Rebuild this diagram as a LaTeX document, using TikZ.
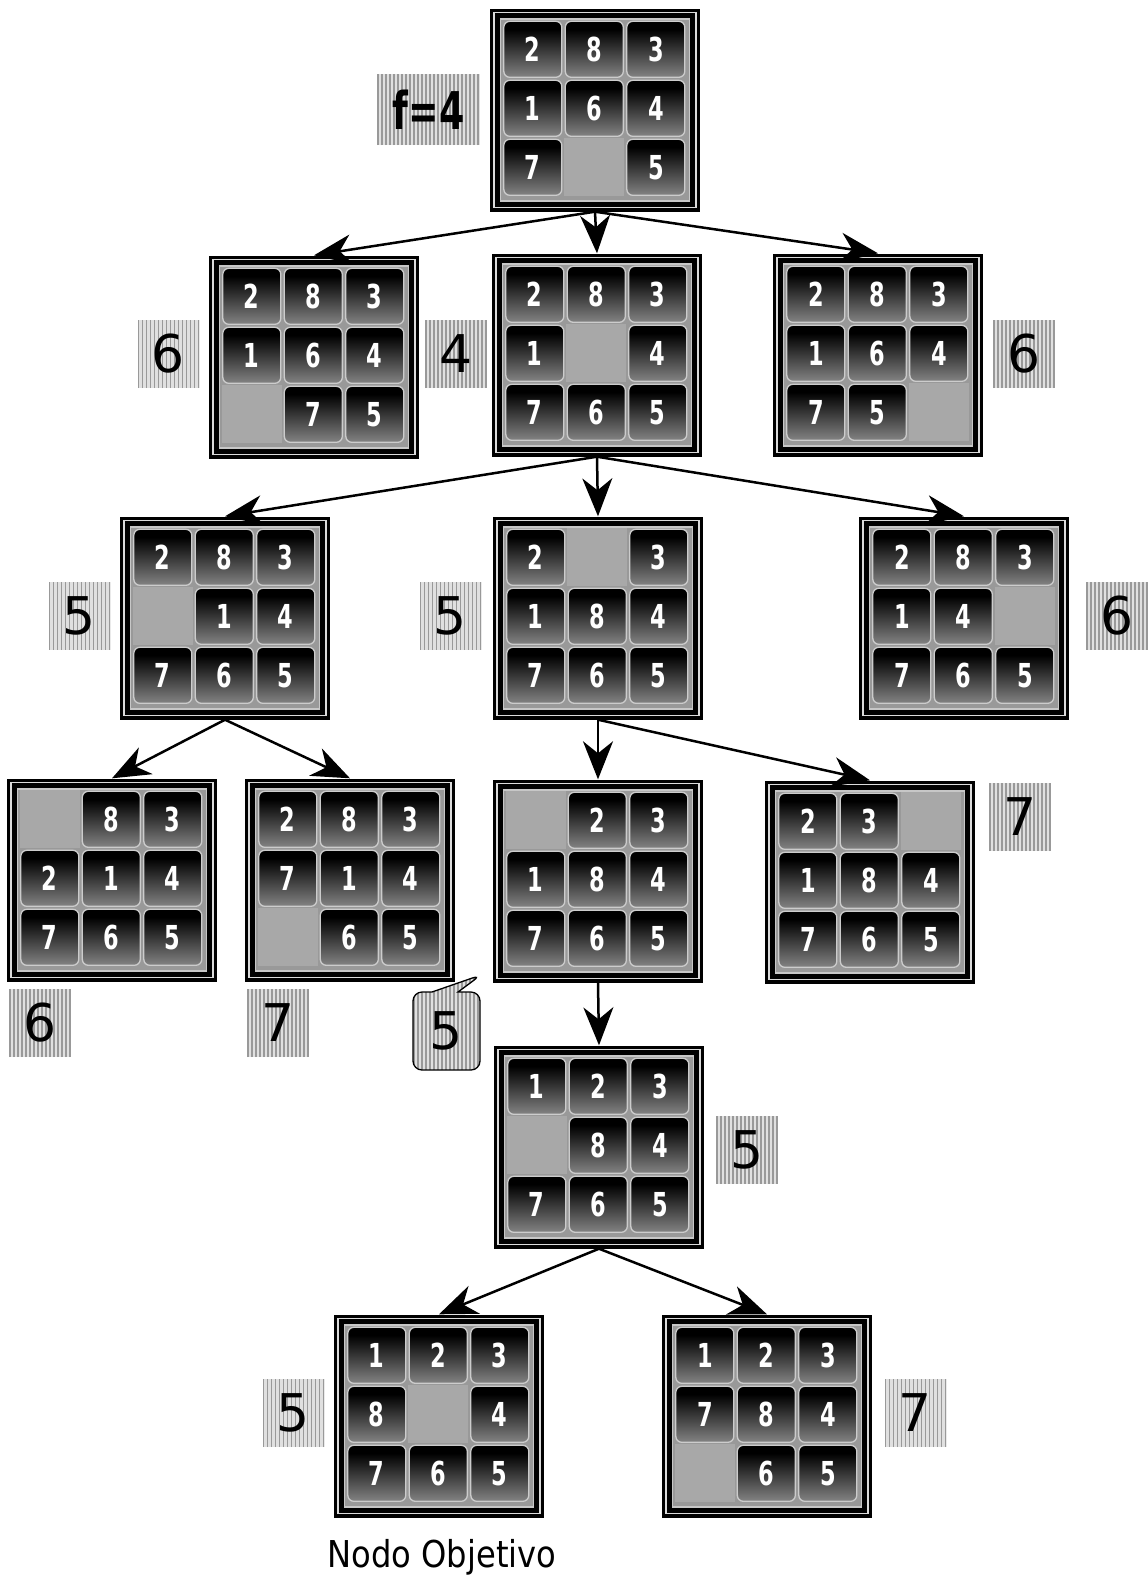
\documentclass[tikz,border=0pt]{standalone}
\usepackage{fontspec}
\setmainfont{DejaVu Sans}
\newfontfamily\tilefont{DejaVu Sans}[FakeStretch=0.68]
\newfontfamily\capfont{DejaVu Sans}[FakeStretch=0.87]
\usetikzlibrary{arrows.meta,shapes.callouts}
\pgfdeclareverticalshading{tileshade}{100bp}{color(0bp)=(black!36); color(22bp)=(black!45); color(56bp)=(black!86); color(68bp)=(black); color(100bp)=(black)}
\tikzset{
  board/.style={rectangle, fill=black, minimum width=210pt, minimum height=203pt, inner sep=0pt},
  tilenum/.style={text=white, font=\tilefont\bfseries\fontsize{33}{33}\selectfont, inner sep=0pt},
  stripes/.style={path picture={
    \fill[black!12] (path picture bounding box.south west) rectangle (path picture bounding box.north east);
    \foreach \s in {1,5,...,133}{\draw[black!40,line width=1.5pt] ([xshift=\s pt]path picture bounding box.south west) -- ([xshift=\s pt]path picture bounding box.north west);}
  }},
  labelbox/.style={stripes, minimum width=62pt, minimum height=68pt, inner sep=0pt, font=\fontsize{52}{52}\selectfont},
  arr/.style={line width=2.5pt, -{Stealth[length=38pt,width=30pt,inset=12pt]}}
}
\newcommand\puz[3]{%
  \node[board] (#1) at #2 {};
  \begin{scope}[shift={(#1.north west)}]
    \draw[black!14, line width=1.6pt] (4,4) rectangle (206,199);
    \fill[black!40] (10,10) rectangle (200,193);
    \draw[black!22, line width=1.4pt] (10.5,10.5) rectangle (199.5,192.5);
    \foreach \v [count=\k from 0] in {#3} {
      \pgfmathtruncatemacro\cc{mod(\k,3)}
      \pgfmathtruncatemacro\rr{div(\k,3)}
      \pgfmathsetmacro\xa{14+61.5*\cc}
      \pgfmathsetmacro\ya{13+59*\rr}
      \ifnum\v=0
        \fill[black!34] (\xa-1,\ya-1) rectangle ++(60,58);
      \else
        \shadedraw[shading=tileshade, draw=black!20, line width=1.3pt, rounded corners=6pt] (\xa,\ya) rectangle ++(58,56);
        \node[tilenum] (#1-\k) at (\xa+29,\ya+28) {\v};
      \fi
    }
  \end{scope}
}
\begin{document}
\begin{tikzpicture}[x=1pt,y=-1pt]
\fill[white] (0,0) rectangle (1148,1583);
\useasboundingbox (0,0) rectangle (1148,1583);

\puz{root}{(595,110)}{2,8,3,1,6,4,7,0,5}
\puz{a1}{(314,357)}{2,8,3,1,6,4,0,7,5}
\puz{a2}{(597,355)}{2,8,3,1,0,4,7,6,5}
\puz{a3}{(878,355)}{2,8,3,1,6,4,7,5,0}
\puz{b1}{(225,618)}{2,8,3,0,1,4,7,6,5}
\puz{b2}{(598,618)}{2,0,3,1,8,4,7,6,5}
\puz{b3}{(964,618)}{2,8,3,1,4,0,7,6,5}
\puz{c1}{(112,880)}{0,8,3,2,1,4,7,6,5}
\puz{c2}{(350,880)}{2,8,3,7,1,4,0,6,5}
\puz{c3}{(598,881)}{0,2,3,1,8,4,7,6,5}
\puz{c4}{(870,882)}{2,3,0,1,8,4,7,6,5}
\puz{d1}{(599,1147)}{1,2,3,0,8,4,7,6,5}
\puz{e1}{(439,1416)}{1,2,3,8,0,4,7,6,5}
\puz{e2}{(767,1416)}{1,2,3,7,8,4,0,6,5}

\node[labelbox, minimum width=103pt, minimum height=71pt] (lroot) at (428.5,109.5) {\scalebox{0.7}[1]{\bfseries f=4}};
\node[labelbox] (la1) at (168.5,354) {6};
\node[labelbox] (la2) at (456,354) {4};
\node[labelbox] (la3) at (1024,354) {6};
\node[labelbox] (lb1) at (79.5,615.5) {5};
\node[labelbox] (lb2) at (450.5,615.5) {5};
\node[labelbox] (lb3) at (1117,615.5) {6};
\node[labelbox] (lc4) at (1020,817) {7};
\node[labelbox] (lc1) at (40,1023) {6};
\node[labelbox] (lc2) at (278,1023) {7};
\node[labelbox, rectangle callout, draw, line width=1.3pt, rounded corners=9pt,
      callout absolute pointer={(481,975)}, callout pointer width=26pt,
      minimum width=67pt, minimum height=78pt] (lc3) at (446.5,1031) {5};
\node[labelbox] (ld1) at (747,1149.5) {5};
\node[labelbox] (le1) at (293.5,1413) {5};
\node[labelbox] (le2) at (915.5,1413) {7};

\node[font=\capfont\fontsize{37}{37}\selectfont, inner sep=0pt] (goal) at (442,1557) {Nodo Objetivo};

\draw[arr] (root.south) -- (a1.north);
\draw[arr] (root.south) -- (a2.north);
\draw[arr] (root.south) -- (a3.north);
\draw[arr] (a2.south) -- (b1.north);
\draw[arr] (a2.south) -- (b2.north);
\draw[arr] (a2.south) -- (b3.north);
\draw[arr] (b1.south) -- (c1.north);
\draw[arr] (b1.south) -- (c2.north);
\draw[arr] (b2.south) -- (c3.north);
\draw[arr] (b2.south) -- (c4.north);
\draw[arr] (c3.south) -- (d1.north);
\draw[arr] (d1.south) -- (e1.north);
\draw[arr] (d1.south) -- (e2.north);
\end{tikzpicture}
\end{document}
